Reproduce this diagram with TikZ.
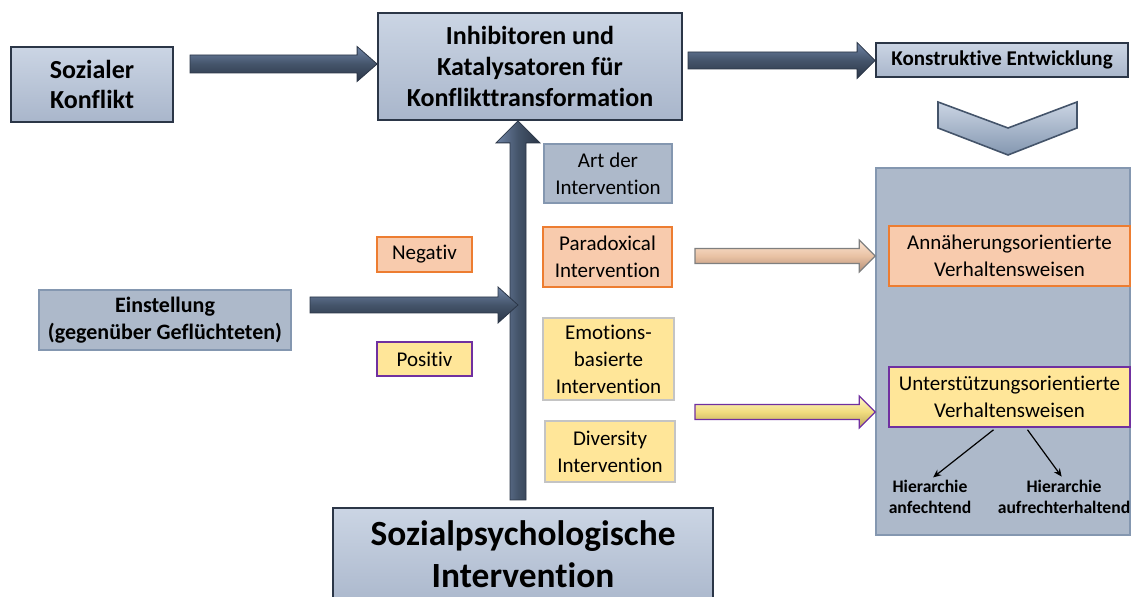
\documentclass[tikz,border=0pt]{standalone}
\usepackage{fontspec}
\setmainfont[Ligatures=NoCommon]{Carlito}
\usetikzlibrary{arrows.meta,calc}
\definecolor{bgfill}{HTML}{ADB9CA}
\definecolor{bgline}{HTML}{8497B0}
\definecolor{navy}{HTML}{44546A}
\definecolor{navydark}{HTML}{2B3647}
\definecolor{navylight}{HTML}{6F84A6}
\definecolor{bevtop}{HTML}{CBD5E4}
\definecolor{bevbot}{HTML}{A9B6CB}
\definecolor{peach}{HTML}{F8CBAD}
\definecolor{orangeline}{HTML}{ED7D31}
\definecolor{lightyellow}{HTML}{FFE699}
\definecolor{purpleline}{HTML}{7030A0}
\definecolor{greyline}{HTML}{C4C4C4}
\definecolor{peachtop}{HTML}{FCE6D4}
\definecolor{peachmid}{HTML}{E9C2A4}
\definecolor{peachbot}{HTML}{B58F77}
\definecolor{yeltop}{HTML}{FFF6CC}
\definecolor{yelmid}{HTML}{F1DC7E}
\definecolor{yelbot}{HTML}{B9A35A}
\definecolor{arrowgrey}{HTML}{7F7F7F}

\newcommand{\hblock}[6]{\path[#6] let \p1=(#1), \p2=(#2) in
  (\x1,\y1+#3) -- (\x2-#5,\y1+#3) -- (\x2-#5,\y1+#4) -- (\x2,\y1)
  -- (\x2-#5,\y1-#4) -- (\x2-#5,\y1-#3) -- (\x1,\y1-#3) -- cycle;}
\newcommand{\vblock}[6]{\path[#6] let \p1=(#1), \p2=(#2) in
  (\x1-#3,\y1) -- (\x1-#3,\y2-#5) -- (\x1-#4,\y2-#5) -- (\x1,\y2)
  -- (\x1+#4,\y2-#5) -- (\x1+#3,\y2-#5) -- (\x1+#3,\y1) -- cycle;}

\tikzset{
  bevel/.style={draw=navydark, line width=0.9pt, top color=bevtop, bottom color=bevbot,
    align=center, inner sep=0pt},
  flat/.style={draw=bgline, line width=0.6pt, fill=bgfill, align=center, inner sep=0pt,
    font=\fontsize{10.5}{13.5}\selectfont},
  peachbox/.style={draw=orangeline, line width=0.8pt, fill=peach, align=center, inner sep=0pt,
    font=\fontsize{10.5}{13.5}\selectfont},
  yelbox/.style={draw=greyline, line width=0.6pt, fill=lightyellow, align=center, inner sep=0pt,
    font=\fontsize{10.5}{13.5}\selectfont},
  yelpurple/.style={yelbox, draw=purpleline, line width=0.8pt},
  hdark/.style={draw=navydark, line width=0.4pt, top color=navylight, bottom color=navydark, middle color=navy},
  vdark/.style={draw=navydark, line width=0.4pt, left color=navylight, right color=navydark, middle color=navy},
  horange/.style={draw=arrowgrey, line width=0.6pt, top color=peachtop, bottom color=peachbot, middle color=peachmid},
  hyellow/.style={draw=purpleline, line width=0.6pt, top color=yeltop, bottom color=yelbot, middle color=yelmid},
  chev/.style={draw=navy, line width=0.8pt, top color=bevtop, bottom color=bgline},
  hlabel/.style={align=center, inner sep=0pt, font=\bfseries\fontsize{8.8}{10.5}\selectfont},
  thin/.style={-{Stealth[length=4pt,width=3.5pt]}, line width=0.6pt, black, shorten >=2pt}
}

\begin{document}
\begin{tikzpicture}[x=0.5pt,y=-0.5pt]
\useasboundingbox (0,0) rectangle (1134,597);

% right panel
\node[draw=bgline, line width=0.8pt, fill=bgfill, minimum width=127pt, minimum height=183.5pt, inner sep=0pt]
  (panel) at (1003,351.5) {};

% top row
\node[bevel, minimum width=81pt, minimum height=37.5pt, font=\bfseries\fontsize{13}{15}\selectfont]
  (soz) at (92,84.5) {Sozialer\\Konflikt};
\node[bevel, minimum width=152pt, minimum height=53.5pt, font=\bfseries\fontsize{13}{15.5}\selectfont]
  (inh) at (530,66.5) {Inhibitoren und\\Katalysatoren für\\Konflikttransformation};
\node[bevel, minimum width=126pt, minimum height=17pt, font=\bfseries\fontsize{10.5}{12}\selectfont]
  (kon) at (1002,60) {Konstruktive Entwicklung};

% chevron
\draw[chev] (938,102) -- (1008,128) -- (1077,102) -- (1077,128) -- (1008,155) -- (938,128) -- cycle;

% middle boxes
\node[flat, minimum width=64pt, minimum height=29.5pt] (art) at (608,173.5) {Art der\\Intervention};
\node[peachbox, minimum width=64.5pt, minimum height=30pt] (par) at (607.5,257) {Paradoxical\\Intervention};
\node[yelbox, minimum width=65.5pt, minimum height=41pt] (emo) at (608.5,359) {Emotions-\\basierte\\Intervention};
\node[yelbox, minimum width=65pt, minimum height=30.5pt] (div) at (610,451.5) {Diversity\\Intervention};

\node[peachbox, minimum width=47.5pt, minimum height=17.5pt] (neg) at (424.5,254.5) {Negativ};
\node[yelpurple, minimum width=47.5pt, minimum height=17pt] (pos) at (424.5,359) {Positiv};

\node[flat, minimum width=126pt, minimum height=30pt, font=\bfseries\fontsize{11}{13.5}\selectfont]
  (ein) at (165,320) {Einstellung\\(gegenüber Geflüchteten)};

% right inner boxes
\node[peachbox, minimum width=120.5pt, minimum height=30pt] (ann) at (1009.5,256) {Annäherungsorientierte\\Verhaltensweisen};
\node[yelpurple, minimum width=120.5pt, minimum height=30pt] (unt) at (1009.5,397) {Unterstützungsorientierte\\Verhaltensweisen};
\node[hlabel] (h1) at (930,497) {Hierarchie\\anfechtend};
\node[hlabel] (h2) at (1064,497) {Hierarchie\\aufrechterhaltend};

% bottom box
\node[bevel, minimum width=190pt, minimum height=51pt] (szp) at (523,559) {};
\node[align=center, inner sep=0pt, font=\bfseries\fontsize{17.7}{21}\selectfont]
  (szptext) at (523,554) {Sozialpsychologische\\Intervention};

% block arrows
\coordinate (a1s) at (190,64);
\hblock{a1s}{inh.west |- a1s}{4.5pt}{8.75pt}{10pt}{hdark}
\coordinate (a2s) at (688,60.5);
\hblock{a2s}{kon.west |- a2s}{4.25pt}{9pt}{9pt}{hdark}
\coordinate (vbot) at (518,500);
\vblock{vbot}{inh.south -| vbot}{4pt}{11pt}{11pt}{vdark}
\coordinate (a3s) at (310,305);
\hblock{a3s}{vbot |- a3s}{4pt}{9pt}{10pt}{hdark}
\coordinate (a4s) at (695,256);
\hblock{a4s}{[xshift=-6.5pt]ann.west |- a4s}{3.75pt}{8pt}{8pt}{horange}
\coordinate (a5s) at (695,412);
\hblock{a5s}{[xshift=-6.5pt]unt.west |- a5s}{3.75pt}{8pt}{8pt}{hyellow}

% thin arrows
\draw[thin] ([xshift=-8pt,yshift=-1pt]unt.south) -- (h1.north);
\draw[thin] ([xshift=9pt,yshift=-1pt]unt.south) -- (h2.north);
\end{tikzpicture}
\end{document}
